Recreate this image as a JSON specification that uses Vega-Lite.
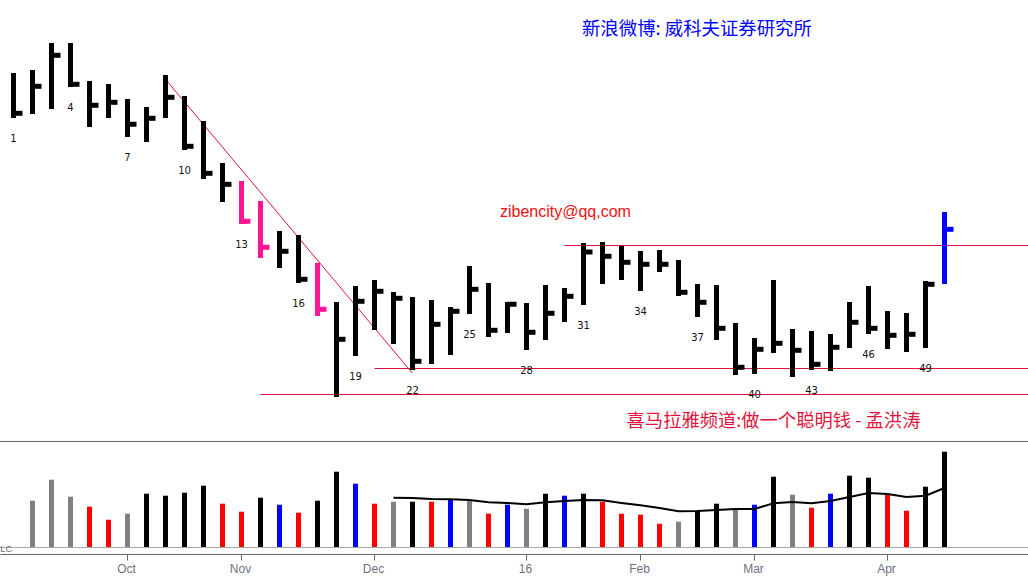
{
  "$schema": "https://vega.github.io/schema/vega-lite/v6.json",
  "description": "Weekly OHLC bars with a volume panel underneath, bars numbered every third week.",
  "width": 1028,
  "height": 580,
  "padding": 0,
  "autosize": {"type": "none"},
  "background": "white",
  "config": {"view": {"stroke": null}},
  "datasets": {
    "bars": [
      {"n": 1, "high": 368, "low": 323, "close": 327.7, "barClass": "normal", "vol": null, "volClass": null, "ma": null},
      {"n": 2, "high": 371, "low": 327, "close": 354.7, "barClass": "normal", "vol": 46.3, "volClass": "neutral", "ma": null},
      {"n": 3, "high": 398, "low": 332, "close": 385.7, "barClass": "normal", "vol": 67.3, "volClass": "neutral", "ma": null},
      {"n": 4, "high": 398, "low": 354, "close": 356.7, "barClass": "normal", "vol": 50.3, "volClass": "neutral", "ma": null},
      {"n": 5, "high": 360, "low": 314, "close": 335.7, "barClass": "normal", "vol": 40.3, "volClass": "down", "ma": null},
      {"n": 6, "high": 357, "low": 323, "close": 338.7, "barClass": "normal", "vol": 27.3, "volClass": "down", "ma": null},
      {"n": 7, "high": 342, "low": 304, "close": 316.7, "barClass": "normal", "vol": 33.3, "volClass": "neutral", "ma": null},
      {"n": 8, "high": 334, "low": 299, "close": 322.7, "barClass": "normal", "vol": 53.3, "volClass": "up", "ma": null},
      {"n": 9, "high": 366, "low": 323, "close": 343.7, "barClass": "normal", "vol": 51.3, "volClass": "up", "ma": null},
      {"n": 10, "high": 345, "low": 291, "close": 294.7, "barClass": "normal", "vol": 54.3, "volClass": "up", "ma": null},
      {"n": 11, "high": 320, "low": 262, "close": 267.7, "barClass": "normal", "vol": 61.3, "volClass": "up", "ma": null},
      {"n": 12, "high": 278, "low": 239, "close": 256.7, "barClass": "normal", "vol": 43.3, "volClass": "down", "ma": null},
      {"n": 13, "high": 260, "low": 217, "close": 219.7, "barClass": "signal", "vol": 35.3, "volClass": "down", "ma": null},
      {"n": 14, "high": 240, "low": 183, "close": 193.7, "barClass": "signal", "vol": 49.3, "volClass": "up", "ma": null},
      {"n": 15, "high": 210, "low": 173, "close": 189.7, "barClass": "normal", "vol": 42.3, "volClass": "breakout", "ma": null},
      {"n": 16, "high": 206, "low": 158, "close": 161.7, "barClass": "normal", "vol": 34.3, "volClass": "down", "ma": null},
      {"n": 17, "high": 178, "low": 125, "close": 131.7, "barClass": "signal", "vol": 46.3, "volClass": "up", "ma": null},
      {"n": 18, "high": 139, "low": 44, "close": 101.7, "barClass": "normal", "vol": 75.3, "volClass": "up", "ma": null},
      {"n": 19, "high": 155, "low": 85, "close": 139.7, "barClass": "normal", "vol": 63.3, "volClass": "breakout", "ma": null},
      {"n": 20, "high": 161, "low": 111, "close": 149.7, "barClass": "normal", "vol": 43.3, "volClass": "down", "ma": null},
      {"n": 21, "high": 149, "low": 97, "close": 142.7, "barClass": "normal", "vol": 45.3, "volClass": "neutral", "ma": 49.3},
      {"n": 22, "high": 144, "low": 71, "close": 79.7, "barClass": "normal", "vol": 45.3, "volClass": "up", "ma": 49},
      {"n": 23, "high": 141, "low": 77, "close": 116.7, "barClass": "normal", "vol": 45.3, "volClass": "down", "ma": 48},
      {"n": 24, "high": 134, "low": 86, "close": 129.7, "barClass": "normal", "vol": 47.3, "volClass": "breakout", "ma": 47.7},
      {"n": 25, "high": 175, "low": 127, "close": 151.7, "barClass": "normal", "vol": 46.3, "volClass": "neutral", "ma": 47},
      {"n": 26, "high": 158, "low": 104, "close": 110.7, "barClass": "normal", "vol": 33.3, "volClass": "down", "ma": 44.7},
      {"n": 27, "high": 139, "low": 108, "close": 136.7, "barClass": "normal", "vol": 42.3, "volClass": "breakout", "ma": 44},
      {"n": 28, "high": 138, "low": 91, "close": 108.7, "barClass": "normal", "vol": 38.3, "volClass": "neutral", "ma": 42.7},
      {"n": 29, "high": 156, "low": 101, "close": 127.7, "barClass": "normal", "vol": 53.3, "volClass": "up", "ma": 44.7},
      {"n": 30, "high": 153, "low": 119, "close": 144.7, "barClass": "normal", "vol": 51.3, "volClass": "breakout", "ma": 46},
      {"n": 31, "high": 198, "low": 136, "close": 189, "barClass": "normal", "vol": 53.3, "volClass": "up", "ma": 47},
      {"n": 32, "high": 199, "low": 157, "close": 184.7, "barClass": "normal", "vol": 45.3, "volClass": "down", "ma": 46.7},
      {"n": 33, "high": 195, "low": 161, "close": 178.7, "barClass": "normal", "vol": 33.3, "volClass": "down", "ma": 44},
      {"n": 34, "high": 190, "low": 150, "close": 176.7, "barClass": "normal", "vol": 32.3, "volClass": "down", "ma": 41.7},
      {"n": 35, "high": 191, "low": 169, "close": 176.7, "barClass": "normal", "vol": 23.3, "volClass": "down", "ma": 39},
      {"n": 36, "high": 181, "low": 145, "close": 148.7, "barClass": "normal", "vol": 25.3, "volClass": "neutral", "ma": 35.7},
      {"n": 37, "high": 157, "low": 124, "close": 138.7, "barClass": "normal", "vol": 36.3, "volClass": "up", "ma": 36},
      {"n": 38, "high": 156, "low": 101, "close": 112.7, "barClass": "normal", "vol": 43.3, "volClass": "up", "ma": 37},
      {"n": 39, "high": 118, "low": 66, "close": 73.7, "barClass": "normal", "vol": 38.3, "volClass": "neutral", "ma": 38},
      {"n": 40, "high": 103, "low": 67, "close": 91.7, "barClass": "normal", "vol": 42.3, "volClass": "breakout", "ma": 38},
      {"n": 41, "high": 161, "low": 88, "close": 97.7, "barClass": "normal", "vol": 70.3, "volClass": "up", "ma": 43.7},
      {"n": 42, "high": 112, "low": 64, "close": 90.7, "barClass": "normal", "vol": 52.3, "volClass": "neutral", "ma": 45},
      {"n": 43, "high": 110, "low": 71, "close": 76.7, "barClass": "normal", "vol": 39.3, "volClass": "down", "ma": 43.7},
      {"n": 44, "high": 107, "low": 70, "close": 93.7, "barClass": "normal", "vol": 53.3, "volClass": "breakout", "ma": 46},
      {"n": 45, "high": 139, "low": 93, "close": 118.7, "barClass": "normal", "vol": 71.3, "volClass": "up", "ma": 50},
      {"n": 46, "high": 155, "low": 107, "close": 112.7, "barClass": "normal", "vol": 69.3, "volClass": "up", "ma": 54},
      {"n": 47, "high": 130, "low": 92, "close": 105.7, "barClass": "normal", "vol": 52.3, "volClass": "down", "ma": 53},
      {"n": 48, "high": 128, "low": 89, "close": 106.7, "barClass": "normal", "vol": 36.3, "volClass": "down", "ma": 50},
      {"n": 49, "high": 160, "low": 93, "close": 156.7, "barClass": "normal", "vol": 60.3, "volClass": "up", "ma": 51.3},
      {"n": 50, "high": 229, "low": 157, "close": 211.7, "barClass": "breakout", "vol": 95.3, "volClass": "up", "ma": 59}
    ],
    "barNumbers": [
      {"n": 1, "price": 302, "label": "1"},
      {"n": 4, "price": 333, "label": "4"},
      {"n": 7, "price": 283, "label": "7"},
      {"n": 10, "price": 270, "label": "10"},
      {"n": 13, "price": 196, "label": "13"},
      {"n": 16, "price": 137, "label": "16"},
      {"n": 19, "price": 64, "label": "19"},
      {"n": 22, "price": 50, "label": "22"},
      {"n": 25, "price": 106, "label": "25"},
      {"n": 28, "price": 70, "label": "28"},
      {"n": 31, "price": 115, "label": "31"},
      {"n": 34, "price": 129, "label": "34"},
      {"n": 37, "price": 103, "label": "37"},
      {"n": 40, "price": 46, "label": "40"},
      {"n": 43, "price": 50, "label": "43"},
      {"n": 46, "price": 86, "label": "46"},
      {"n": 49, "price": 72, "label": "49"}
    ],
    "trendlines": [
      {"from": 9, "to": 22, "start": 361.7, "end": 67.7},
      {"from": 30, "to": 54.4, "start": 195.5, "end": 195.5},
      {"from": 20, "to": 54.4, "start": 72.5, "end": 72.5},
      {"from": 14, "to": 54.4, "start": 46.5, "end": 46.5}
    ]
  },
  "resolve": {"scale": {"y": "independent", "color": "independent"}},
  "layer": [
    {
      "layer": [
        {
          "data": {"name": "trendlines"},
          "mark": {"type": "rule", "strokeWidth": 1, "color": "#dc143c"},
          "encoding": {
            "x": {
              "field": "from",
              "type": "quantitative",
              "scale": {"domain": [0.2895, 54.395], "nice": false, "zero": false},
              "axis": {
                "title": null,
                "grid": false,
                "offset": -26,
                "values": [7, 13, 20, 28, 34, 40, 47],
                "labelExpr": "{7: 'Oct', 13: 'Nov', 20: 'Dec', 28: '16', 34: 'Feb', 40: 'Mar', 47: 'Apr'}[datum.value]",
                "domainColor": "#666666",
                "tickColor": "#666666",
                "tickSize": 6,
                "labelColor": "#707080",
                "labelFont": "Liberation Sans",
                "labelFontSize": 12,
                "labelPadding": 3,
                "labelOffset": -1.5,
                "labelOverlap": false,
                "labelFlush": false
              }
            },
            "x2": {"field": "to"},
            "y": {"field": "start", "type": "quantitative", "scale": {"domain": [0, 441], "range": [441, 0], "nice": false, "zero": false}, "axis": null},
            "y2": {"field": "end"}
          }
        },
        {
          "data": {"name": "bars"},
          "mark": {"type": "rule", "strokeWidth": 5},
          "encoding": {
            "x": {"field": "n", "type": "quantitative"},
            "y": {"field": "high", "type": "quantitative"},
            "y2": {"field": "low"},
            "color": {"field": "barClass", "type": "nominal", "scale": {"domain": ["normal", "signal", "breakout"], "range": ["#000000", "#ff1493", "#0000ff"]}, "legend": null}
          }
        },
        {
          "data": {"name": "bars"},
          "mark": {"type": "tick", "orient": "horizontal", "size": 9, "thickness": 5, "xOffset": 4.5, "opacity": 1},
          "encoding": {
            "x": {"field": "n", "type": "quantitative"},
            "y": {"field": "close", "type": "quantitative"},
            "color": {"field": "barClass", "type": "nominal", "scale": {"domain": ["normal", "signal", "breakout"], "range": ["#000000", "#ff1493", "#0000ff"]}, "legend": null}
          }
        },
        {
          "data": {"name": "barNumbers"},
          "mark": {"type": "text", "font": "DejaVu Sans", "fontSize": 10, "color": "#111111"},
          "encoding": {
            "x": {"field": "n", "type": "quantitative"},
            "y": {"field": "price", "type": "quantitative"},
            "text": {"field": "label"}
          }
        },
        {
          "data": {"values": [{"n": 36.97, "price": 412, "note": "新浪微博: 威科夫证券研究所"}]},
          "mark": {"type": "text", "font": "Noto Sans CJK SC", "fontSize": 18.4, "color": "#0000ff"},
          "encoding": {
            "x": {"field": "n", "type": "quantitative"},
            "y": {"field": "price", "type": "quantitative"},
            "text": {"field": "note"}
          }
        },
        {
          "data": {"values": [{"n": 30.05, "price": 229, "note": "zibencity@qq,com"}]},
          "mark": {"type": "text", "font": "Liberation Sans", "fontSize": 16, "color": "#ee1111"},
          "encoding": {
            "x": {"field": "n", "type": "quantitative"},
            "y": {"field": "price", "type": "quantitative"},
            "text": {"field": "note"}
          }
        },
        {
          "data": {"values": [{"n": 41, "price": 19, "note": "喜马拉雅频道:做一个聪明钱 - 孟洪涛"}]},
          "mark": {"type": "text", "font": "Noto Sans CJK SC", "fontSize": 18.3, "color": "#e0143c"},
          "encoding": {
            "x": {"field": "n", "type": "quantitative"},
            "y": {"field": "price", "type": "quantitative"},
            "text": {"field": "note"}
          }
        }
      ]
    },
    {
      "layer": [
        {
          "data": {"values": [{"level": 105.5, "from": 0.2895, "to": 54.395}]},
          "mark": {"type": "rule", "strokeWidth": 1, "color": "#666666"},
          "encoding": {
            "x": {"field": "from", "type": "quantitative"},
            "x2": {"field": "to"},
            "y": {"field": "level", "type": "quantitative", "scale": {"domain": [0, 106], "range": [547, 441], "nice": false, "zero": false}, "axis": null}
          }
        },
        {
          "data": {"values": [{"level": -0.5, "from": 0.2895, "to": 54.395}]},
          "mark": {"type": "rule", "strokeWidth": 1, "color": "#aaaaaa"},
          "encoding": {
            "x": {"field": "from", "type": "quantitative"},
            "x2": {"field": "to"},
            "y": {"field": "level", "type": "quantitative"}
          }
        },
        {
          "data": {"name": "bars"},
          "mark": {"type": "rule", "strokeWidth": 5},
          "encoding": {
            "x": {"field": "n", "type": "quantitative"},
            "y": {"field": "vol", "type": "quantitative"},
            "y2": {"datum": 0},
            "color": {"field": "volClass", "type": "nominal", "scale": {"domain": ["neutral", "up", "down", "breakout"], "range": ["#808080", "#000000", "#ff0000", "#0000ff"]}, "legend": null}
          }
        },
        {
          "data": {"name": "bars"},
          "mark": {"type": "line", "color": "#000000", "strokeWidth": 2},
          "encoding": {
            "x": {"field": "n", "type": "quantitative"},
            "y": {"field": "ma", "type": "quantitative"}
          }
        },
        {
          "data": {"values": [{"n": 0.3, "vol": -1.5, "note": "LC"}]},
          "mark": {"type": "text", "font": "Liberation Sans", "fontSize": 9.5, "align": "left", "color": "#707080"},
          "encoding": {
            "x": {"field": "n", "type": "quantitative"},
            "y": {"field": "vol", "type": "quantitative"},
            "text": {"field": "note"}
          }
        }
      ]
    }
  ]
}
